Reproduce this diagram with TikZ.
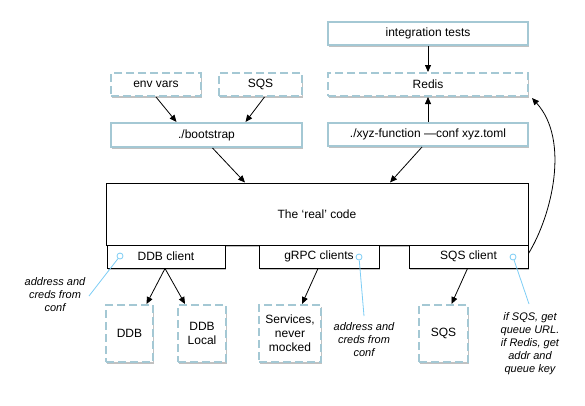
\documentclass[tikz,border=0pt]{standalone}
\usepackage{fontspec}
\setmainfont{Liberation Sans}
\usetikzlibrary{shadows,calc,arrows.meta}
\definecolor{bluebd}{RGB}{164,200,212}
\definecolor{annot}{RGB}{125,205,245}
\tikzset{
  shd/.style={drop shadow={shadow xshift=0.8pt,shadow yshift=-1.6pt,opacity=0.35,fill=black!70}},
  solidbox/.style={draw=bluebd,line width=2pt,fill=white,shd,inner sep=0pt,align=center,
    font=\fontsize{12}{14}\selectfont},
  dashbox/.style={solidbox,dash pattern=on 8pt off 4pt},
  codebox/.style={draw=black,line width=1pt,fill=white,shd,inner sep=0pt,align=center,
    font=\fontsize{12}{14}\selectfont},
  arr/.style={-{Triangle[length=7pt,width=6pt]},line width=0.8pt,draw=black},
  note/.style={font=\fontsize{11}{13}\selectfont\itshape,align=center,inner sep=0pt},
  dot/.style={circle,draw=annot,fill=white,line width=0.8pt,inner sep=0pt,minimum size=6pt},
  noteline/.style={draw=annot,line width=0.8pt}
}
\begin{document}
\begin{tikzpicture}[x=1pt,y=-1pt]
\useasboundingbox (0,0) rectangle (585,405);
% top right column
\node[solidbox,minimum width=200,minimum height=23] (integ) at (428,33.5) {integration tests};
\node[dashbox,minimum width=200,minimum height=23] (redis) at (428,84.5) {Redis};
\node[solidbox,minimum width=200,minimum height=23] (xyz) at (428,134.5) {./xyz-function —conf xyz.toml};
% top left
\node[dashbox,minimum width=90,minimum height=23] (envvars) at (156,84.5) {env vars};
\node[dashbox,minimum width=83,minimum height=23] (sqstop) at (260.5,84.5) {SQS};
\node[solidbox,minimum width=191,minimum height=24] (bootstrap) at (206.5,135) {./bootstrap};
% main code
\node[codebox,minimum width=422,minimum height=62] (main) at (317,214) {The ‘real’ code};
\node[codebox,minimum width=118,minimum height=23] (ddbc) at (166,256.5) {DDB client};
\node[codebox,minimum width=120,minimum height=23] (grpc) at (319,256.5) {gRPC clients};
\node[codebox,minimum width=119,minimum height=23] (sqsc) at (468.5,256.5) {SQS client};
% bottom
\node[dashbox,minimum width=47,minimum height=57] (ddb) at (129.5,333.5) {DDB};
\node[dashbox,minimum width=48,minimum height=57] (ddbl) at (202,333.5) {DDB\\Local};
\node[dashbox,minimum width=62,minimum height=57] (svc) at (290,333.5) {Services,\\never\\mocked};
\node[dashbox,minimum width=49,minimum height=57] (sqsb) at (443.5,333.5) {SQS};
% arrows
\draw[arr] (integ) -- (redis);
\draw[arr] (xyz) -- (redis);
\draw[arr] (envvars.south) -- ([xshift=-30pt]bootstrap.north);
\draw[arr] ([xshift=4pt]sqstop.south) -- ([xshift=39pt]bootstrap.north);
\draw[arr] ([xshift=6pt]bootstrap.south) -- ([xshift=-72pt]main.north);
\draw[arr] ([xshift=-6pt]xyz.south) -- ([xshift=73pt]main.north);
\draw[arr] ([xshift=-1pt]ddbc.south) -- ([xshift=17pt]ddb.north);
\draw[arr] ([xshift=-1pt]ddbc.south) -- ([xshift=-17pt]ddbl.north);
\draw[arr] ([xshift=-1pt]grpc.south) -- ([xshift=12pt]svc.north);
\draw[arr] ([xshift=-1pt]sqsc.south) -- ([xshift=8pt]sqsb.north);
\draw[arr] ([yshift=3pt]sqsc.east) .. controls (552,215) and (570,140) .. ([xshift=3pt,yshift=-1pt]redis.south east);
% notes
\node[note] (n1) at (55,295) {address and\\creds from\\conf};
\node[note] (n2) at (364,340) {address and\\creds from\\conf};
\node[note] (n3) at (530,344) {if SQS, get\\queue URL.\\if Redis, get\\addr and\\queue key};
\node[dot] (c1) at (120,256) {};
\node[dot] (c2) at (359,257) {};
\node[dot] (c3) at (513,257) {};
\coordinate (e1) at (89,296);
\coordinate (e2) at (364,316);
\coordinate (e3) at (529,304);
\draw[noteline] (c1) -- (e1);
\draw[noteline] (c2) -- (e2);
\draw[noteline] (c3) -- (e3);
\end{tikzpicture}
\end{document}
